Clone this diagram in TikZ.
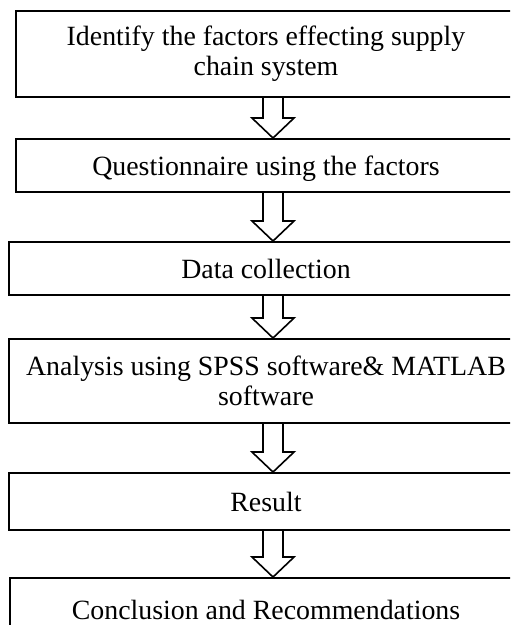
\documentclass[tikz,border=0pt]{standalone}
\usepackage{fontspec}
\setmainfont{Liberation Serif}
\usetikzlibrary{calc}

\begin{document}
\begin{tikzpicture}[x=0.4667pt, y=-0.4667pt,
    flowbox/.style={draw, line width=0.9pt, align=center, inner sep=0pt,
                    font=\fontsize{13}{14}\selectfont},
    oneline/.style={text height=9.6pt, text depth=0pt},
    blockarrow/.style={draw, line width=0.75pt, line join=miter}]
  \useasboundingbox (0,0) rectangle (510,625);
  \clip (0,0) rectangle (510,625);
  % Steps
  \node[flowbox, minimum width=233.35pt, minimum height=40.14pt] (ident) at (266,54)
    {Identify the factors effecting supply\\chain system};
  \node[flowbox, oneline, minimum width=233.35pt, minimum height=24.74pt] (quest) at (266,165.5)
    {Questionnaire using the factors};
  \node[flowbox, oneline, minimum width=239.9pt, minimum height=24.74pt] (data) at (266,268.5)
    {Data collection};
  \node[flowbox, minimum width=239.9pt, minimum height=39.2pt] (anal) at (266,381)
    {Analysis using SPSS software\& MATLAB\\software};
  \node[flowbox, oneline, minimum width=239.9pt, minimum height=26.6pt] (res) at (266,501.5)
    {Result};
  \node[flowbox, oneline, minimum width=238.95pt, minimum height=28.94pt] (concl) at (266,609)
    {Conclusion and Recommendations};
  % Block arrows
  \foreach \a/\b in {ident/quest, quest/data, data/anal, anal/res, res/concl}
    \draw[blockarrow] ($(\a.south)+(-3,0)$) -- ($(\b.north)+(-3,-20)$)
      -- ($(\b.north)+(-14,-20)$) -- ($(\b.north)+(7,0)$)
      -- ($(\b.north)+(28,-20)$) -- ($(\b.north)+(17,-20)$)
      -- ($(\a.south)+(17,0)$);
\end{tikzpicture}
\end{document}
